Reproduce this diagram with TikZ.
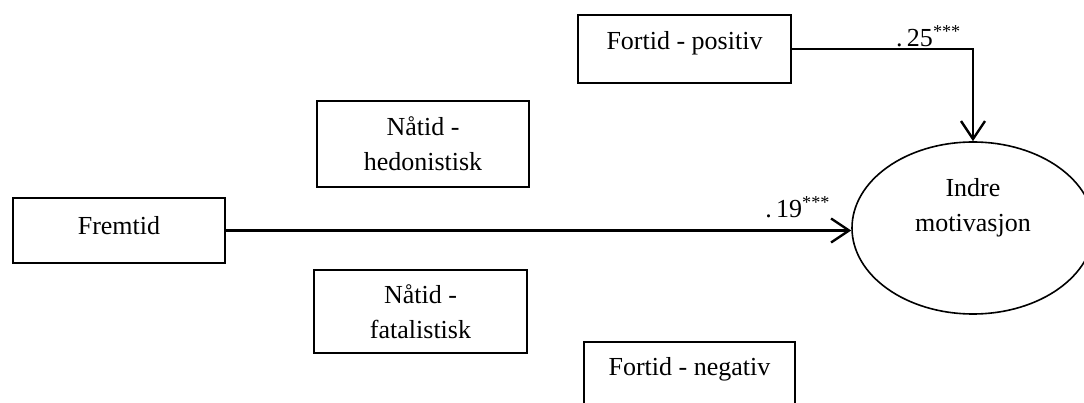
\documentclass[tikz,border=0pt]{standalone}
\usepackage{fontspec}
\setmainfont{Liberation Serif}
\usetikzlibrary{shapes.geometric,arrows.meta}

\begin{document}
\begin{tikzpicture}[x=1pt,y=-1pt,
  every node/.style={font=\fontsize{26}{35}\selectfont},
  boks/.style={draw, line width=1.4pt, inner sep=0pt, align=center},
  pil/.style={line width=2.4pt, -{Straight Barb[length=18pt,width=24pt]}},
  tall/.style={inner sep=0pt}]
\path[use as bounding box, clip] (0,0) rectangle (1084,403);

\node[boks, minimum width=213pt, text height=35pt, text depth=33pt] (positiv) at (684.5,49) {Fortid - positiv};
\node[boks, minimum width=212pt, minimum height=86pt] (hedonistisk) at (423,144) {Nåtid -\\hedonistisk};
\node[boks, minimum width=212pt, text height=37pt, text depth=28pt] (fremtid) at (119,230.5) {Fremtid};
\node[boks, minimum width=213pt, minimum height=83pt] (fatalistisk) at (420.5,311.5) {Nåtid -\\fatalistisk};
\node[boks, minimum width=211pt, text height=33pt, text depth=35pt] (negativ) at (689.5,376) {Fortid - negativ};

\node[draw, ellipse, line width=1.6pt, inner sep=0pt, minimum width=242pt, minimum height=172pt] (indre) at (973,228) {};
\node[align=center] (indretekst) at (973,208) {Indre\\motivasjon};

\draw[pil] (positiv.east) -| (indre.north) node[tall, pos=0.5, anchor=base east, xshift=-11pt, yshift=2pt] {.\,25\textsuperscript{***}};
\draw[pil] (fremtid.east) -- (fremtid.east -| indre.west) node[tall, pos=1, anchor=base east, xshift=-20pt, yshift=13pt] {.\,19\textsuperscript{***}};
\end{tikzpicture}
\end{document}
